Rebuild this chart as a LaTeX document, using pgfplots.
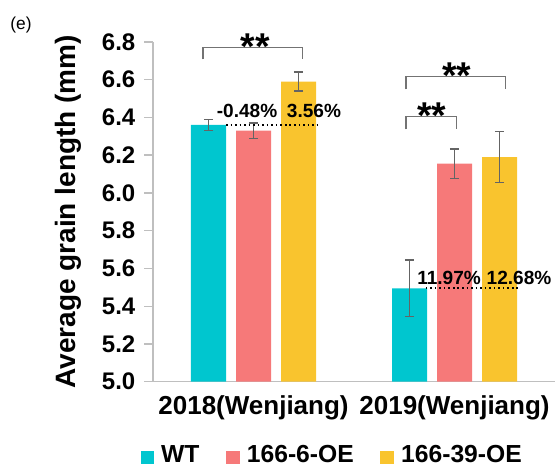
\documentclass[border=0pt]{standalone}
\usepackage{fontspec}
\setmainfont{Liberation Sans}
\usepackage{pgfplots}
\pgfplotsset{compat=1.18}
\definecolor{cWT}{RGB}{0,198,207}
\definecolor{cA}{RGB}{246,121,121}
\definecolor{cB}{RGB}{249,196,46}
\definecolor{axgray}{RGB}{191,191,191}
\definecolor{ebgray}{RGB}{100,100,100}
\definecolor{brgray}{RGB}{115,115,115}
\pgfplotsset{
  ebar/.style={error bars/.cd, y dir=both, y explicit,
    error bar style={ebgray, line width=1pt},
    error mark options={rotate=90, mark size=3.4pt, line width=1pt, ebgray}},
}
\begin{document}
\begin{tikzpicture}
\begin{axis}[
  at={(114.75pt,63.225pt)}, anchor=south west,
  scale only axis, width=301.5pt, height=254.85pt,
  xmin=-0.5, xmax=1.5, ymin=5.0, ymax=6.8,
  clip=false,
  axis x line*=bottom, axis y line*=left,
  axis line style={axgray, line width=1pt},
  xtick={0,1}, xticklabels={2018(Wenjiang),2019(Wenjiang)},
  xtick style={draw=none},
  xticklabel style={font=\bfseries\fontsize{19.5}{21}\selectfont},
  ytick={5.0,5.2,5.4,5.6,5.8,6.0,6.2,6.4,6.6,6.8},
  ytick style={axgray, line width=1pt},
  tick align=outside, major tick length=6.75pt,
  yticklabel style={font=\bfseries\fontsize{18}{20}\selectfont, xshift=-3pt,
    /pgf/number format/.cd, fixed, fixed zerofill, precision=1, assume math mode=true},
  ylabel={Average grain length (mm)},
  ylabel style={font=\bfseries\fontsize{21}{24}\selectfont, at={(-0.1928,0.5)}, anchor=base},
  legend columns=3,
  legend style={draw=none, fill=none, at={(0.4465,-0.2157)}, anchor=center,
    font=\bfseries\fontsize{18.5}{20}\selectfont,
    /tikz/every even column/.append style={column sep=18pt}},
]
\addplot[ybar, bar width=26.25pt, bar shift=0pt, fill=cWT, draw=none,
  legend image code/.code={\fill[cWT] (0pt,-6.75pt) rectangle (10pt,3.25pt); \path (13.5pt,0pt);},
  ebar]
  coordinates {(-0.2239,6.36) +- (0,0.03) (0.7761,5.495) +- (0,0.15)};
\addlegendentry{WT}
\addplot[ybar, bar width=26.25pt, bar shift=0pt, fill=cA, draw=none,
  legend image code/.code={\fill[cA] (0pt,-6.75pt) rectangle (10pt,3.25pt); \path (13.5pt,0pt);},
  ebar]
  coordinates {(0,6.33) +- (0,0.04) (1,6.155) +- (0,0.078)};
\addlegendentry{166-6-OE}
\addplot[ybar, bar width=26.25pt, bar shift=0pt, fill=cB, draw=none,
  legend image code/.code={\fill[cB] (0pt,-6.75pt) rectangle (10pt,3.25pt); \path (13.5pt,0pt);},
  ebar]
  coordinates {(0.2239,6.59) +- (0,0.05) (1.2239,6.19) +- (0,0.135)};
\addlegendentry{166-39-OE}
% dotted reference lines
\addplot[black, line width=1.2pt, dash pattern=on 1.2pt off 2.2pt, forget plot]
  coordinates {(-0.137,6.36) (0.331,6.36)};
\addplot[black, line width=1.2pt, dash pattern=on 1.2pt off 2.2pt, forget plot]
  coordinates {(0.857,5.495) (1.325,5.495)};
% significance brackets
\addplot[brgray, line width=0.9pt, forget plot]
  coordinates {(-0.251,6.708) (-0.251,6.771) (0.243,6.771) (0.243,6.708)};
\addplot[brgray, line width=0.9pt, forget plot]
  coordinates {(0.759,6.549) (0.759,6.616) (1.253,6.616) (1.253,6.549)};
\addplot[brgray, line width=0.9pt, forget plot]
  coordinates {(0.759,6.337) (0.759,6.404) (1.011,6.404) (1.011,6.337)};
\node[font=\bfseries\fontsize{28}{30}\selectfont, anchor=base, inner sep=0pt] at (axis cs:0.0075,6.707) {**};
\node[font=\bfseries\fontsize{28}{30}\selectfont, anchor=base, inner sep=0pt] at (axis cs:1.012,6.553) {**};
\node[font=\bfseries\fontsize{28}{30}\selectfont, anchor=base, inner sep=0pt] at (axis cs:0.886,6.341) {**};
\node[font=\bfseries\fontsize{14.3}{16}\selectfont, anchor=base, inner sep=0pt] at (axis cs:-0.032,6.397) {-0.48\%};
\node[font=\bfseries\fontsize{14.3}{16}\selectfont, anchor=base, inner sep=0pt] at (axis cs:0.301,6.397) {3.56\%};
\node[font=\bfseries\fontsize{14.3}{16}\selectfont, anchor=base, inner sep=0pt] at (axis cs:0.973,5.517) {11.97\%};
\node[font=\bfseries\fontsize{14.3}{16}\selectfont, anchor=base, inner sep=0pt] at (axis cs:1.321,5.517) {12.68\%};
\end{axis}
\node[font=\fontsize{13}{15}\selectfont] at (15.75pt,330.75pt) {(e)};
\pgfresetboundingbox
\path[use as bounding box] (0pt,0pt) rectangle (416.25pt,349.5pt);
\end{tikzpicture}
\end{document}
